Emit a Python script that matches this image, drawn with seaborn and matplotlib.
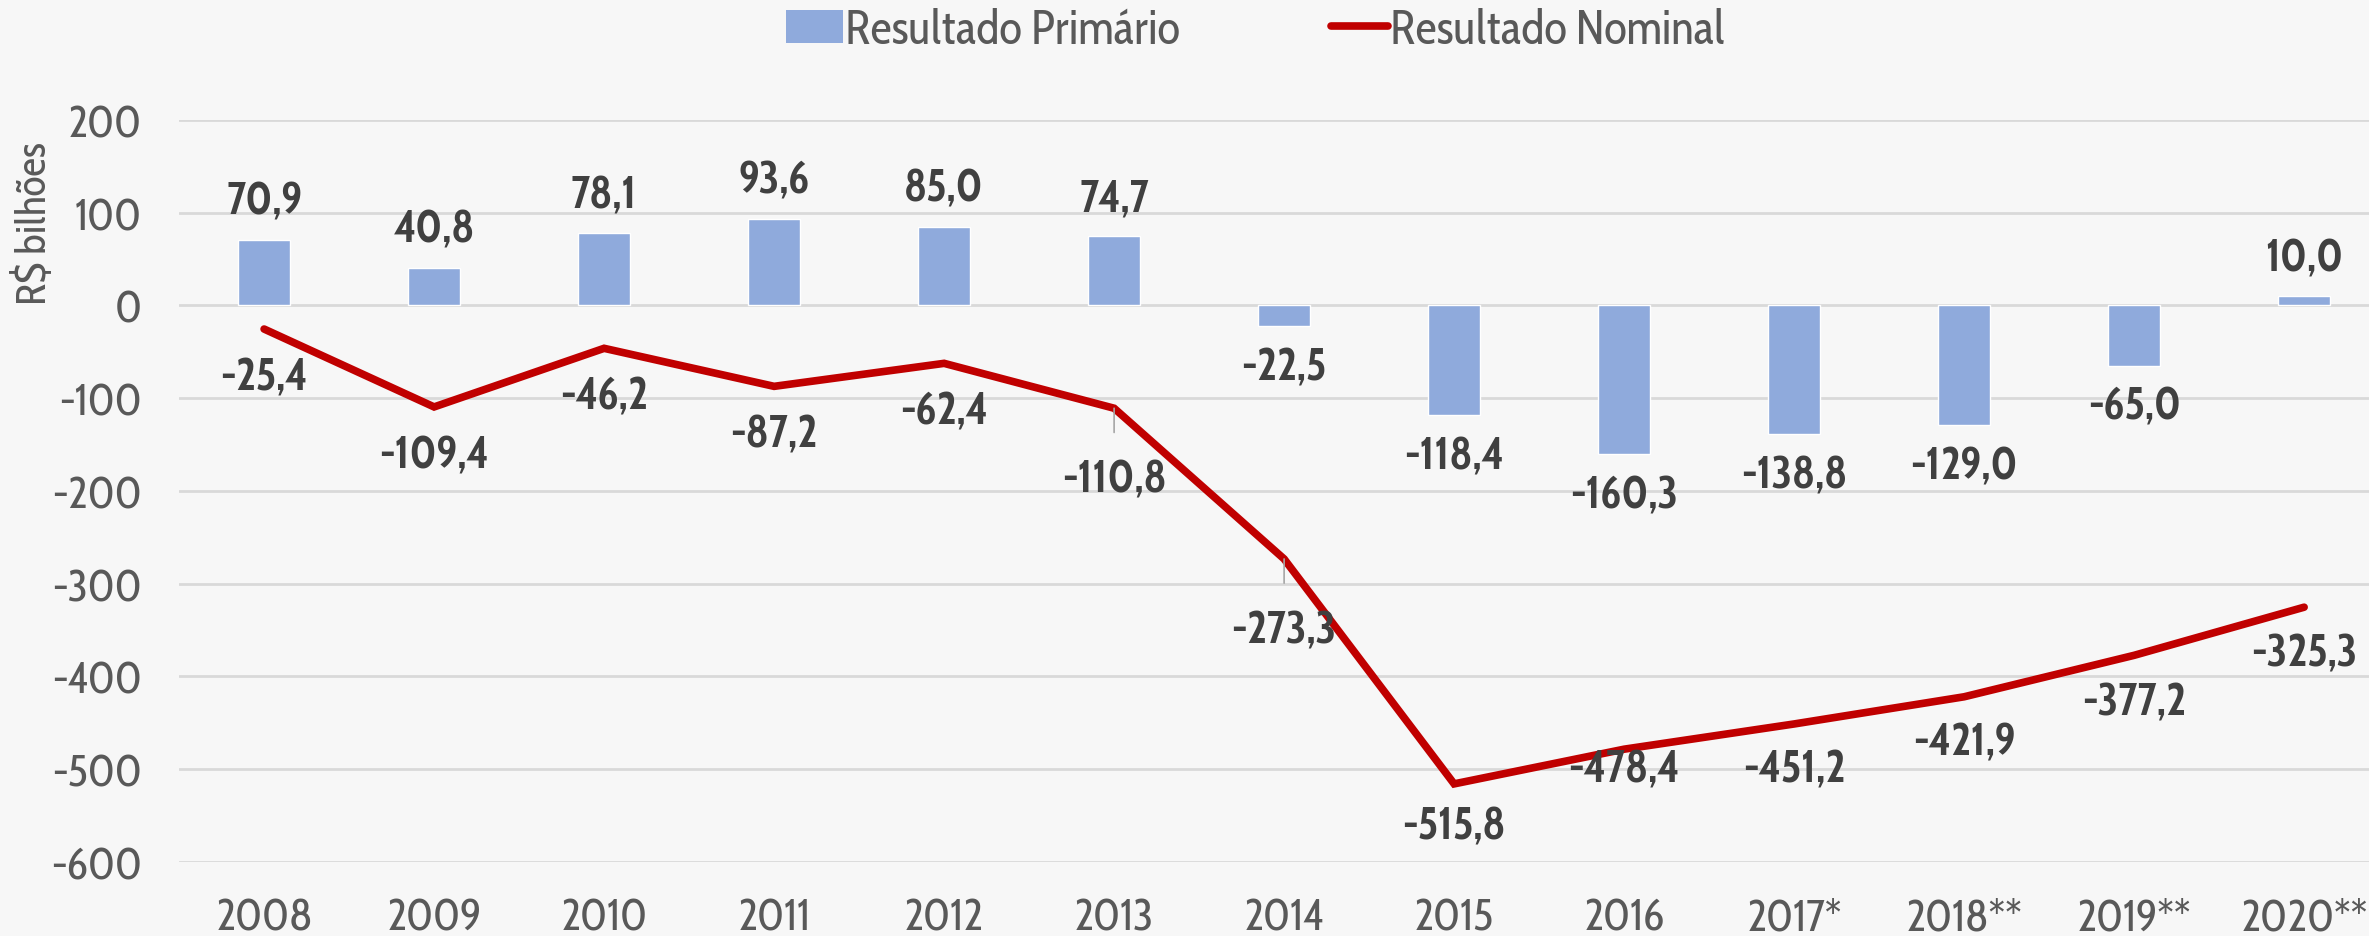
import matplotlib
matplotlib.use("Agg")
import matplotlib.pyplot as plt
import seaborn as sns
import numpy as np
import pandas as pd
from matplotlib.patches import Patch
from matplotlib.lines import Line2D

# Data
anos = ["2008", "2009", "2010", "2011", "2012", "2013", "2014",
        "2015", "2016", "2017*", "2018**", "2019**", "2020**"]
primario = [70.9, 40.8, 78.1, 93.6, 85.0, 74.7, -22.5,
            -118.4, -160.3, -138.8, -129.0, -65.0, 10.0]
nominal = [-25.4, -109.4, -46.2, -87.2, -62.4, -110.8, -273.3,
           -515.8, -478.4, -451.2, -421.9, -377.2, -325.3]
y_ticks = [200, 100, 0, -100, -200, -300, -400, -500, -600]

df = pd.DataFrame({"ano": anos, "primario": primario, "nominal": nominal})

sns.set_style("white")
plt.rcParams["font.family"] = ["Cabin Condensed", "Carlito", "DejaVu Sans"]
plt.rcParams["axes.unicode_minus"] = False

bar_color = "#8FAADC"
line_color = "#C00000"
label_color = "#404040"
tick_color = "#595959"

fig = plt.figure(figsize=(23.69, 9.37), dpi=100, facecolor="#f7f7f7")
ax = fig.add_axes([0.0756, 0.079, 0.9329, 0.7919])
ax.set_facecolor("none")

sns.barplot(data=df, x="ano", y="primario", color=bar_color, width=0.31,
            saturation=1, ax=ax, zorder=2)
x = np.arange(len(anos))
ax.plot(x, df["nominal"], color=line_color, lw=5.5, zorder=3,
        solid_capstyle="round", solid_joinstyle="miter")

ax.set_xlim(-0.5, len(anos) - 0.5)
ax.set_ylim(-600, 200)
ax.set_yticks(y_ticks)
ax.set_yticklabels([str(t) for t in y_ticks])
ax.grid(axis="y", color="#D9D9D9", lw=2, zorder=0)
for s in ax.spines.values():
    s.set_visible(False)
ax.tick_params(axis="both", length=0, labelsize=32, colors=tick_color)
ax.tick_params(axis="x", pad=25)
ax.tick_params(axis="y", pad=27)
ax.set_xlabel("")
ax.set_ylabel("R$ bilhões", fontsize=30, color=tick_color, va="center")
ax.yaxis.set_label_coords(-0.065, 0.862)

fmt = lambda v: f"{v:.1f}".replace(".", ",")

# bar labels
for i, v in enumerate(df["primario"]):
    off = 27 if v > 0 else -30
    ax.annotate(fmt(v), (i, v), xytext=(0, off), textcoords="offset points",
                ha="center", va="center", fontsize=32, fontweight="bold",
                color=label_color, zorder=5)

# line labels
line_off = [35, 35, 35, 35, 35, 52, 52, 31, 15, 33, 33, 34, 34]
for i, v in enumerate(df["nominal"]):
    arrow = None
    if i in (5, 6):
        arrow = dict(arrowstyle="-", color="#A6A6A6", lw=1.2,
                     shrinkA=16, shrinkB=0)
    ax.annotate(fmt(v), (i, v), xytext=(0, -line_off[i]),
                textcoords="offset points", ha="center", va="center",
                fontsize=32, fontweight="bold", color=label_color,
                arrowprops=arrow, zorder=5)

handles = [Patch(facecolor=bar_color, edgecolor="none"),
           Line2D([0], [0], color=line_color, lw=5.5)]
fig.legend(handles, ["Resultado Primário", "Resultado Nominal"],
           loc="center", bbox_to_anchor=(0.53, 0.966), ncol=2, frameon=False,
           fontsize=34, labelcolor=tick_color, handlelength=1.2,
           handleheight=0.7, handletextpad=0.05, columnspacing=3.2)

fig.savefig("out.png", dpi=100, facecolor=fig.get_facecolor())
